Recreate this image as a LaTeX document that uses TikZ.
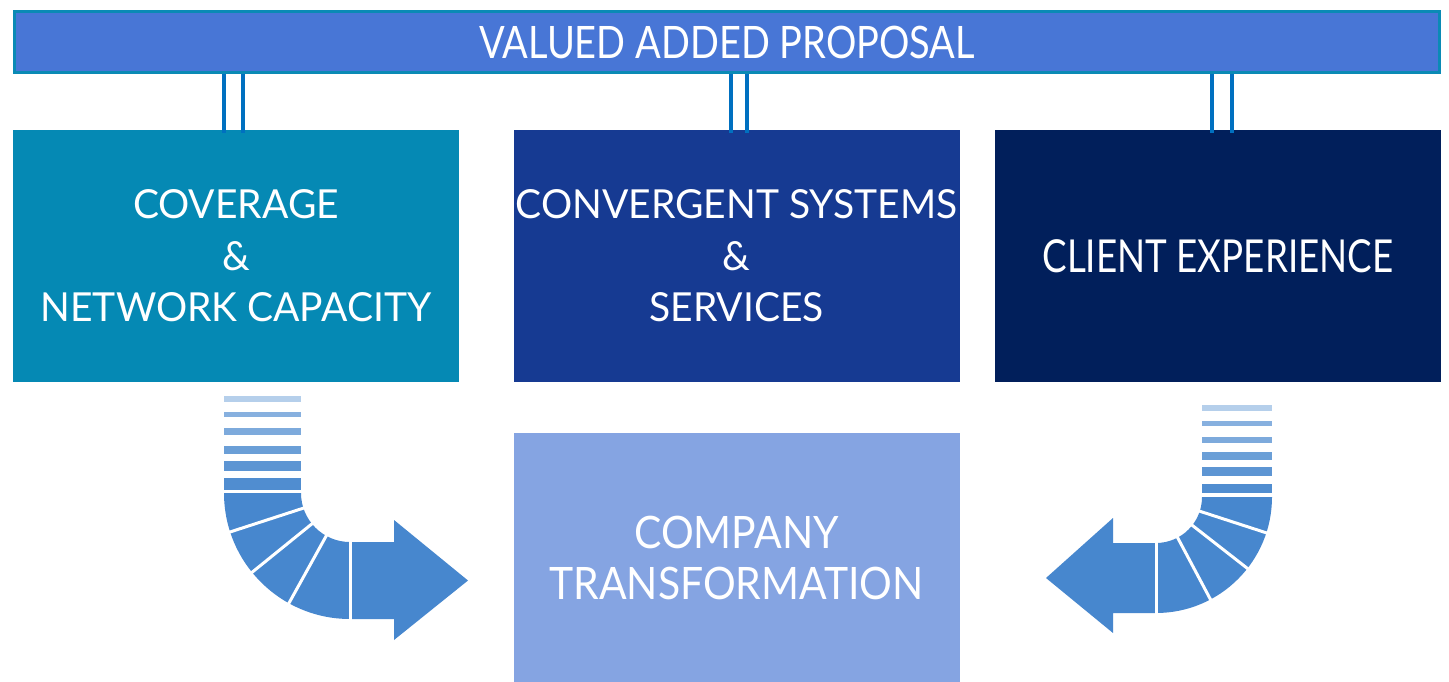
\documentclass[tikz,border=0pt]{standalone}
\usepackage{fontspec}
\setmainfont{Lato}
% narrowed cuts of the same face for the different labels
\newfontfamily\headfont[FakeStretch=0.85]{Lato}
\newfontfamily\pillarfont[FakeStretch=0.975]{Lato}
\newfontfamily\clientfont[FakeStretch=0.81]{Lato}
\newfontfamily\goalfont[FakeStretch=0.915]{Lato}
\usetikzlibrary{calc}

\definecolor{barfill}{HTML}{4876D6}
\definecolor{barline}{HTML}{0A8AB5}
\definecolor{linkc}{HTML}{0070C0}
\definecolor{covc}{HTML}{0589B4}
\definecolor{convc}{HTML}{163A92}
\definecolor{clic}{HTML}{011F5B}
\definecolor{compc}{HTML}{85A4E2}
\definecolor{arrc}{HTML}{4787CE}

\tikzset{
  box/.style={rectangle, inner sep=0pt, text=white, align=center,
    font=\pillarfont\fontsize{40}{51.5}\selectfont,
    minimum width=446pt, minimum height=252pt},
  link/.style={draw=linkc, line width=4pt, shorten >=-3pt},
  gap/.style={draw=white, line width=3pt},
}

\begin{document}
\begin{tikzpicture}[x=1pt,y=-1pt]
  % canvas
  \fill[white] (0,0) rectangle (1449,682);
  \useasboundingbox (0,0) rectangle (1449,682);

  % pillars
  \node[box, fill=covc]  (cov)  at (236,256)    {COVERAGE\\\&\\NETWORK CAPACITY};
  \node[box, fill=convc] (conv) at (736.5,256)  {CONVERGENT SYSTEMS\\\&\\SERVICES};
  \node[box, fill=clic, font=\clientfont\fontsize{45.4}{54}\selectfont]
       (cli)  at (1218,256)   {CLIENT EXPERIENCE};
  \node[box, fill=compc, minimum height=249pt,
        font=\goalfont\fontsize{44.7}{51}\selectfont]
       (comp) at (736.5,557.5) {COMPANY\\TRANSFORMATION};

  % header bar
  \node[rectangle, draw=barline, line width=3pt, fill=barfill, inner sep=0pt,
        minimum width=1425pt, minimum height=61pt, text=white,
        font=\headfont\fontsize{44.7}{54}\selectfont] (top) at (727,42)
       {VALUED ADDED PROPOSAL};

  % double links from the header to each pillar
  \foreach \x in {223.5,242.5}
    \draw[link] (top.south -| \x,0) -- (cov.north -| \x,0);
  \foreach \x in {730.5,746.5}
    \draw[link] (top.south -| \x,0) -- (conv.north -| \x,0);
  \foreach \x in {1211.5,1231.5}
    \draw[link] (top.south -| \x,0) -- (cli.north -| \x,0);

  % left bent arrow: fading stripes, segmented bend, arrow head
  \foreach \a/\b/\o in {396/402/0.4, 412/417/0.65, 428/435/0.7,
                        446/454/0.8, 461/471/0.88, 478/490/0.95}
    \fill[arrc, fill opacity=\o] (224,\a) rectangle (301,\b);
  \begin{scope}[shift={(350,493)}]
    \fill[arrc] (180:126) arc[start angle=180, end angle=90, radius=126]
      -- (44,126) -- (44,147) -- (118,87.5) -- (44,27) -- (44,49)
      -- (90:49) arc[start angle=90, end angle=180, radius=49] -- cycle;
    \foreach \t in {162,141,119,90}
      \draw[gap] (\t:45) -- (\t:130);
  \end{scope}

  % right bent arrow, mirrored
  \foreach \a/\b/\o in {405/411/0.4, 421/426/0.65, 437/443/0.7,
                        452/460/0.8, 467/476/0.88, 484/493/0.95}
    \fill[arrc, fill opacity=\o] (1202,\a) rectangle (1272,\b);
  \begin{scope}[shift={(1156,497)}]
    \fill[arrc] (0:116) arc[start angle=0, end angle=90, radius=116]
      -- (-43,116) -- (-43,136) -- (-110,81) -- (-43,21) -- (-43,46)
      -- (90:46) arc[start angle=90, end angle=0, radius=46] -- cycle;
    \foreach \t in {18,38,62,90}
      \draw[gap] (\t:42) -- (\t:120);
  \end{scope}
\end{tikzpicture}
\end{document}
